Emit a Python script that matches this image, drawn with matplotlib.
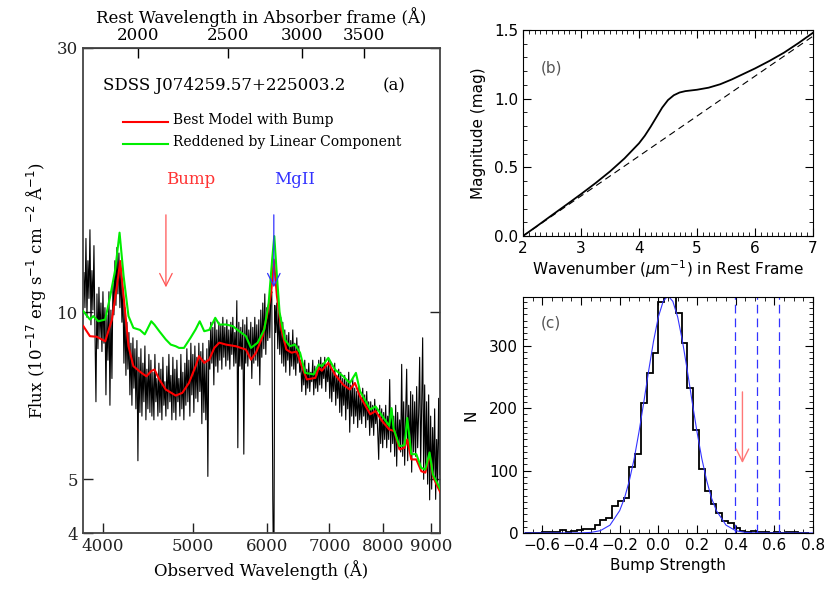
import numpy as np
import matplotlib
matplotlib.use('Agg')
import matplotlib.pyplot as plt
from matplotlib.ticker import NullLocator, MultipleLocator

# absorber redshift (top axis of panel a)
z_abs = 1.18

# observed spectrum, log-linear sampling from 3816 to 9192 A
spec_wave_lo, spec_wave_hi = 3816, 9192
spec_flux = [
    11.8, 10.2, 13.6, 9.8, 12.4, 10.6, 14.1, 9.5, 11.9, 10.1, 13.2, 9.3,
    6.9,
    10.8, 8.6, 11.1, 9.0, 10.4, 8.5, 10.9, 8.8, 10.2, 7.1, 9.9,
    8.2, 10.9, 6.8, 10.1, 7.6, 11.3,
    9.9, 12.4, 10.3, 13.1, 10.8, 12.8, 10.2, 12.0, 9.6,
    11.0, 8.1, 10.2, 7.7, 9.6, 7.9,
    9.2, 7.1, 8.8, 6.8, 9.0, 7.3, 8.6,
    6.7, 8.9, 5.4, 8.3, 6.6,
    8.6, 6.5, 8.1, 6.9, 8.7, 6.4, 7.9, 6.7, 8.4, 6.6,
    8.2, 6.5, 7.8, 6.4, 8.4, 6.9, 7.6, 6.5, 8.1, 6.6, 7.9, 6.4, 8.3, 6.8, 7.5, 6.5, 8.0, 6.7, 8.4, 6.9,
    7.7, 6.4, 8.3, 6.6, 7.9, 6.4, 8.2, 6.9, 7.6, 6.5, 8.4, 6.7, 7.8, 6.4, 8.1,
    6.8, 8.6, 6.9, 8.2, 6.5, 8.8, 7.1, 8.4, 6.6, 8.7, 7.0, 8.3, 6.9, 8.8, 7.2,
    8.5, 6.3, 8.8, 6.6, 8.2, 6.4, 8.6,
    5.06, 8.9,
    7.9, 9.6, 8.1, 9.4, 7.4, 9.7, 8.0, 9.3, 7.8, 9.6, 8.2,
    9.5, 7.9, 9.8, 8.3, 9.4, 8.0, 9.7, 8.2, 9.3, 7.9, 9.6, 8.4, 9.8, 8.0, 9.2, 8.1,
    10.5, 5.7,
    9.6, 8.0, 9.4, 7.9, 9.7,
    5.55,
    9.5, 8.1, 9.8, 8.0, 9.3, 8.3, 9.6, 7.6, 9.4, 8.1, 9.8, 8.2, 9.5, 8.0, 9.7,
    7.4,
    10.1, 8.3, 10.4, 8.6, 10.8, 8.4, 10.2, 8.9, 10.6, 9.0, 10.7,
    10.9, 4.6, 3.0, 10.3,
    9.2, 10.4, 8.6, 10.1, 8.4, 9.8, 8.1, 9.6,
    8.0, 9.3, 7.8, 9.1, 8.2, 9.2, 7.7, 8.9, 8.0, 9.3, 7.9, 8.8, 7.7, 9.0, 8.1, 8.7, 7.8,
    8.2, 7.2, 8.0, 7.4, 8.2, 7.1, 7.9, 7.3, 8.1, 7.2, 7.8, 7.5, 8.2, 7.1, 8.0, 7.3, 7.9, 7.2, 8.2,
    7.4, 8.3, 7.3, 8.1, 7.6, 8.3, 7.2, 8.0, 7.5, 8.2,
    7.0, 8.1, 6.9, 7.8, 7.2, 8.1, 6.8, 7.7, 7.0, 7.9,
    6.6, 7.8, 6.5, 7.6, 6.8, 7.7, 6.4, 7.5, 6.7, 7.8, 6.08, 7.4, 6.5, 7.6,
    6.3, 7.3, 6.5, 7.2, 6.2, 7.35, 6.4, 7.0, 6.3, 7.3, 6.5, 7.1, 6.2, 7.2, 6.4, 6.9,
    6.0, 6.9, 6.2, 6.8, 6.0, 6.97, 6.3, 6.7, 6.1, 5.43, 6.8,
    5.8, 6.7, 5.7, 6.6, 5.9, 6.8, 5.7, 6.5, 5.9,
    7.57,
    5.6, 6.7, 5.8, 6.5, 5.5, 6.8, 5.28, 6.6, 5.7, 6.4, 5.6,
    8.06,
    5.5, 6.9, 5.3, 6.6, 7.9, 5.4, 6.8, 5.6, 7.2,
    5.15,
    7.1, 5.6, 6.9, 5.5, 7.35, 5.7, 6.6,
    8.3,
    5.3, 6.8, 9.0, 5.0, 7.4, 5.2, 6.9, 4.9, 7.1,
    4.59,
    6.5, 4.8, 6.2, 5.0, 6.7, 4.6, 5.9, 4.9, 7.0, 5.1,
]

# best model with bump (red)
red_wave = [3810, 3873, 3938, 4022, 4089, 4140, 4174, 4209, 4260, 4312, 4399, 4453,
            4507, 4543, 4597, 4671, 4788, 4866, 4946, 5029, 5071, 5137, 5201, 5266,
            5331, 5420, 5556, 5695, 5766, 5838, 5934, 6009, 6061, 6101, 6148, 6216,
            6294, 6374, 6455, 6537, 6620, 6761, 6817, 6870, 6981, 7095, 7241, 7363,
            7455, 7550, 7744, 7844, 7979, 8115, 8219, 8323, 8428, 8485, 8570, 8677,
            8785, 8872, 8966, 9040, 9117, 9211]
red_flux = [9.45, 9.06, 9.04, 8.87, 9.71, 11.16, 12.38, 10.70, 8.69, 8.00, 7.78, 7.67,
            7.84, 7.89, 7.57, 7.26, 7.08, 7.16, 7.46, 8.00, 8.34, 8.11, 8.22, 8.63,
            8.82, 8.75, 8.69, 8.57, 8.22, 8.46, 9.06, 10.00, 10.85, 12.46, 10.70, 9.32,
            8.57, 8.46, 8.50, 8.00, 7.57, 7.62, 7.95, 7.85, 8.11, 7.73, 7.41, 7.26,
            7.46, 7.06, 6.55, 6.64, 6.36, 6.15, 6.11, 5.66, 5.70, 5.90, 5.43, 5.43,
            5.17, 5.14, 5.55, 5.07, 4.90, 4.73]

# reddened by linear component (green)
green_wave = [3810, 3873, 3905, 3954, 4022, 4072, 4123, 4167, 4209, 4260, 4312, 4382,
              4435, 4507, 4543, 4597, 4671, 4729, 4788, 4827, 4886, 4966, 5029, 5080,
              5137, 5201, 5279, 5331, 5420, 5510, 5602, 5695, 5766, 5862, 5959, 6024,
              6076, 6108, 6148, 6189, 6268, 6347, 6428, 6510, 6593, 6733, 6817, 6870,
              6981, 7095, 7241, 7363, 7474, 7550, 7744, 7844, 7979, 8115, 8161, 8202,
              8323, 8428, 8485, 8570, 8677, 8785, 8872, 8966, 9040, 9117, 9211]
green_flux = [10.05, 9.71, 9.85, 9.64, 9.71, 10.70, 11.96, 13.93, 11.63, 9.85, 9.38, 9.30,
              9.13, 9.64, 9.50, 9.25, 8.94, 8.75, 8.69, 8.63, 8.63, 9.00, 9.32, 9.64,
              9.25, 9.30, 9.78, 9.51, 9.51, 9.45, 9.25, 9.06, 8.63, 8.82, 9.32, 10.41,
              12.46, 13.73, 11.63, 10.00, 8.94, 8.69, 8.75, 8.46, 7.78, 7.73, 8.06, 8.00,
              8.28, 7.89, 7.67, 7.46, 7.78, 7.21, 6.68, 6.77, 6.50, 6.24, 6.72, 6.18,
              5.74, 5.76, 6.45, 5.55, 5.55, 5.24, 5.21, 5.59, 5.10, 4.96, 4.79]

bump_wave = 4673
mgii_wave = 6101
arrow_from, arrow_to = 15.0, 11.1

bottom_ticks = [4000, 5000, 6000, 7000, 8000, 9000]
top_ticks = [2000, 2500, 3000, 3500]
flux_ticks = [4, 5, 10, 30]

# panel b: extinction curve
ext_x = [2.0, 2.25, 2.5, 2.75, 3.0, 3.25, 3.5, 3.75, 4.0, 4.1, 4.2, 4.3, 4.4, 4.5,
         4.6, 4.7, 4.8, 4.9, 5.0, 5.2, 5.4, 5.6, 5.8, 6.0, 6.25, 6.5, 6.75, 7.0]
ext_y = [0.0, 0.075, 0.152, 0.228, 0.305, 0.385, 0.47, 0.565, 0.675, 0.73, 0.795, 0.865,
         0.935, 0.99, 1.025, 1.045, 1.055, 1.06, 1.065, 1.08, 1.105, 1.14, 1.18, 1.22,
         1.275, 1.335, 1.405, 1.48]
lin_x = [2.0, 7.0]
lin_y = [0.0, 1.455]

# panel c: bump strength distribution
bin_lo, bin_w = -0.69, 0.03
hist_counts = [0, 0, 0, 1, 1, 2, 5, 2, 4, 5, 6, 6, 13, 21, 24, 43, 52, 56, 105, 126,
               209, 256, 288, 370, 385, 385, 352, 305, 232, 165, 103, 67, 46, 32, 20, 16,
               8, 4, 2, 4, 1, 1, 0, 1, 0, 1, 1, 0, 0]
gauss_x = [-0.7, -0.4, -0.35, -0.3, -0.25, -0.2, -0.175, -0.15, -0.125, -0.1, -0.075,
           -0.05, -0.025, 0.0, 0.025, 0.05, 0.075, 0.1, 0.125, 0.15, 0.175, 0.2, 0.225,
           0.25, 0.275, 0.3, 0.35, 0.4, 0.45, 0.5, 0.8]
gauss_y = [0, 0.2, 0.9, 3.7, 12.6, 35.8, 56, 83.8, 119, 162, 210, 260, 307, 346, 371,
           380, 371, 346, 307, 260, 210, 162, 119, 84, 56, 36, 12.6, 3.7, 0.9, 0.2, 0]
sigma_lines = [0.395, 0.51, 0.625]
obs_bump = 0.435
obs_from, obs_to = 226, 112

W, H = 830, 593
fig = plt.figure(figsize=(W / 100, H / 100), dpi=100)

serif = 'DejaVu Serif'
head = '->,head_length=0.9,head_width=0.45'

# ---------------- panel (a)
ax = fig.add_axes([83 / W, 1 - 533 / H, 357 / W, 485 / H])
spec_wave = np.geomspace(spec_wave_lo, spec_wave_hi, len(spec_flux))
ax.plot(spec_wave, spec_flux, color='k', lw=0.8, zorder=2)
ax.plot(red_wave, red_flux, color='#ff0000', lw=1.5, zorder=3)
ax.plot(green_wave, green_flux, color='#00ee00', lw=1.5, zorder=4)
ax.set_xscale('log')
ax.set_yscale('log')
ax.set_xlim(3807, 9200)
ax.set_ylim(4, 30)
ax.set_xticks(bottom_ticks, labels=[str(t) for t in bottom_ticks])
ax.set_yticks(flux_ticks, labels=[str(t) for t in flux_ticks])
ax.xaxis.set_minor_locator(NullLocator())
ax.yaxis.set_minor_locator(NullLocator())
ax.tick_params(direction='in', length=7, width=1, top=False, right=True,
               labelsize=12, colors='#222222')
for lab in ax.get_xticklabels() + ax.get_yticklabels():
    lab.set_family(serif)
for sp in ax.spines.values():
    sp.set_color('#444444')
    sp.set_linewidth(1.3)
ax.set_xlabel('Observed Wavelength (Å)', family=serif, fontsize=12, labelpad=4)
ax.set_ylabel(r'Flux (10$^{-17}$ erg s$^{-1}$ cm $^{-2}$ Å$^{-1}$)', family=serif,
              fontsize=12, labelpad=6)

sec = ax.secondary_xaxis('top', functions=(lambda w: w / (1 + z_abs), lambda w: w * (1 + z_abs)))
sec.set_xticks(top_ticks, labels=[str(t) for t in top_ticks])
sec.xaxis.set_minor_locator(NullLocator())
sec.tick_params(direction='in', length=7, width=1, labelsize=12, pad=3)
for lab in sec.get_xticklabels():
    lab.set_family(serif)
sec.set_xlabel('Rest Wavelength in Absorber frame (Å)', family=serif, fontsize=12, labelpad=3)

ax.text(0.056, 0.922, 'SDSS J074259.57+225003.2', transform=ax.transAxes, family=serif,
        fontsize=12, va='center', ha='left')
ax.text(0.840, 0.922, '(a)', transform=ax.transAxes, family=serif, fontsize=12,
        va='center', ha='left')
ax.plot([0.112, 0.238], [0.8474, 0.8474], transform=ax.transAxes, color='#ff0000', lw=1.5)
ax.plot([0.112, 0.238], [0.802, 0.802], transform=ax.transAxes, color='#00ee00', lw=1.5)
ax.text(0.252, 0.852, 'Best Model with Bump', transform=ax.transAxes, family=serif,
        fontsize=10, va='center', ha='left')
ax.text(0.252, 0.806, 'Reddened by Linear Component', transform=ax.transAxes, family=serif,
        fontsize=10, va='center', ha='left')

ax.text(bump_wave, 17.4, 'Bump', color='#ff3333', family=serif, fontsize=12,
        ha='left', va='center')
ax.text(mgii_wave, 17.4, 'MgII', color='#3333ff', family=serif, fontsize=12,
        ha='left', va='center')
ax.annotate('', xy=(bump_wave, arrow_to), xytext=(bump_wave, arrow_from),
            arrowprops=dict(arrowstyle=head, color='#ff5555', lw=0.9, shrinkA=0, shrinkB=0),
            zorder=5)
ax.annotate('', xy=(mgii_wave, arrow_to), xytext=(mgii_wave, arrow_from),
            arrowprops=dict(arrowstyle=head, color='#3333ff', lw=0.9, shrinkA=0, shrinkB=0),
            zorder=5)

# ---------------- panel (b)
bx = fig.add_axes([523 / W, 1 - 236 / H, 290 / W, 206 / H])
bx.plot(ext_x, ext_y, color='k', lw=1.3)
bx.plot(lin_x, lin_y, color='k', lw=0.8, dashes=(6, 4))
bx.set_xlim(2, 7)
bx.set_ylim(0, 1.5)
bx.xaxis.set_major_locator(MultipleLocator(1))
bx.xaxis.set_minor_locator(MultipleLocator(0.1))
bx.yaxis.set_major_locator(MultipleLocator(0.5))
bx.yaxis.set_minor_locator(MultipleLocator(0.1))
bx.yaxis.set_major_formatter(lambda v, p: f'{v:.1f}')
bx.tick_params(which='both', direction='in', top=True, right=True, labelsize=11)
bx.tick_params(which='major', length=6)
bx.tick_params(which='minor', length=3)
bx.set_xlabel(r'Wavenumber ($\mu$m$^{-1}$) in Rest Frame', fontsize=11, labelpad=2)
bx.set_ylabel('Magnitude (mag)', fontsize=11, labelpad=6)
bx.text(0.06, 0.815, '(b)', transform=bx.transAxes, fontsize=11, color='#555555',
        va='center')

# ---------------- panel (c)
cx = fig.add_axes([523 / W, 1 - 533 / H, 290 / W, 236 / H])
edges = np.round(bin_lo + bin_w * np.arange(len(hist_counts) + 1), 2)
cx.stairs(hist_counts, edges, color='k', lw=1.3)
cx.plot(gauss_x, gauss_y, color='#3333ff', lw=0.8)
for v in sigma_lines:
    cx.axvline(v, color='#3333ff', lw=0.9, dashes=(7, 4))
cx.annotate('', xy=(obs_bump, obs_to), xytext=(obs_bump, obs_from),
            arrowprops=dict(arrowstyle=head, color='#ff7777', lw=1.0, shrinkA=0, shrinkB=0))
cx.set_xlim(-0.7, 0.8)
cx.set_ylim(0, 378)
cx.xaxis.set_major_locator(MultipleLocator(0.2))
cx.xaxis.set_minor_locator(MultipleLocator(0.05))
cx.yaxis.set_major_locator(MultipleLocator(100))
cx.yaxis.set_minor_locator(MultipleLocator(10))
cx.xaxis.set_major_formatter(lambda v, p: f'{v:.1f}'.replace('-', '\u2212'))
cx.tick_params(which='both', direction='in', top=True, right=True, labelsize=11)
cx.tick_params(which='major', length=6)
cx.tick_params(which='minor', length=3)
cx.set_xlabel('Bump Strength', fontsize=11, labelpad=4)
cx.set_ylabel('N', fontsize=11, labelpad=8)
cx.text(0.06, 0.89, '(c)', transform=cx.transAxes, fontsize=11, color='#555555',
        va='center')

fig.savefig('out.png', dpi=100)
